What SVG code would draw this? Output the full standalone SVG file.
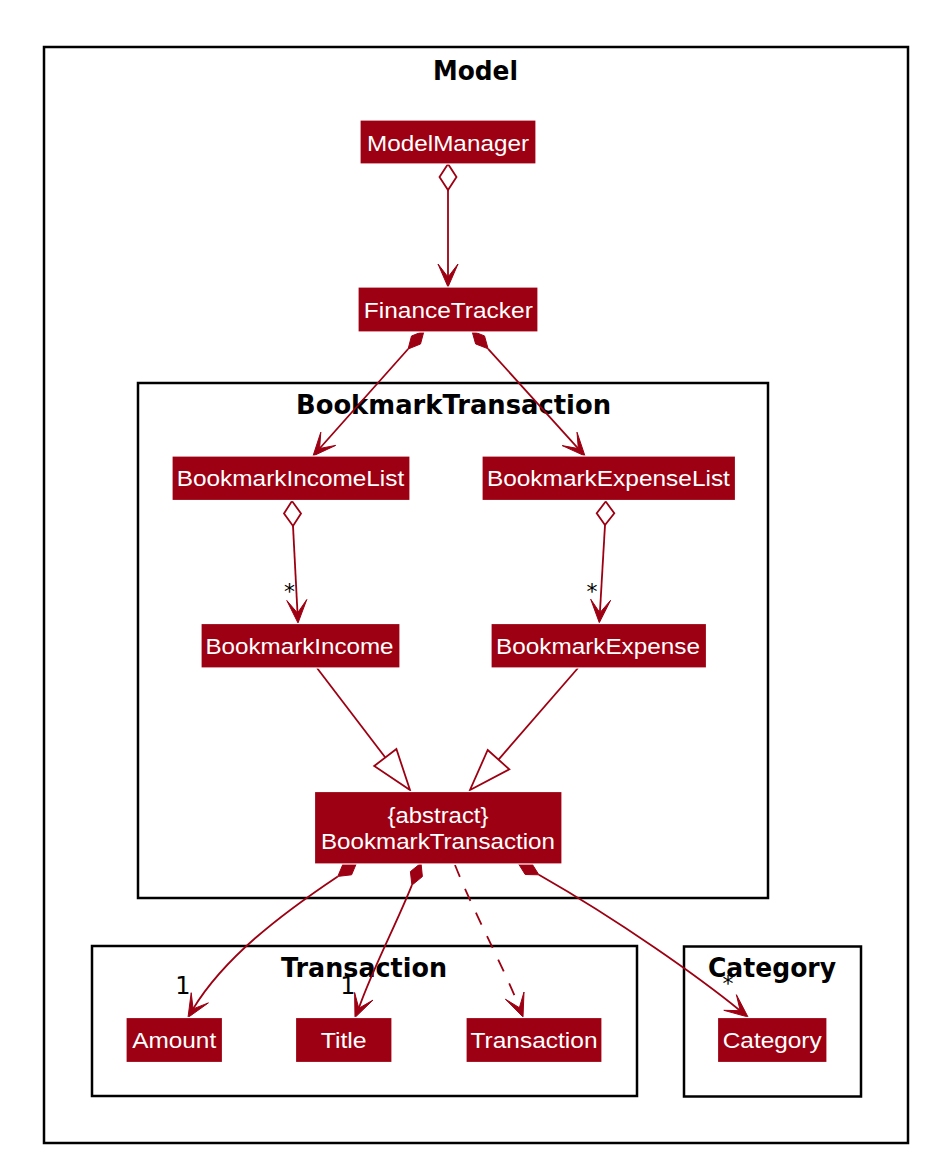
<svg xmlns="http://www.w3.org/2000/svg" width="928" height="1164" viewBox="0 0 928 1164">
<style>
.frame{fill:none;stroke:#000;stroke-width:2.5}
.ftitle{font-family:"DejaVu Sans",Verdana,sans-serif;font-weight:bold;font-size:26px;fill:#000;text-anchor:middle}
.box{fill:#9D0012;stroke:#fff;stroke-width:1.2}
.lbl{font-family:"Liberation Sans",Arial,sans-serif;font-size:22.5px;fill:#fff;text-anchor:middle}
.edge{fill:none;stroke:#9D0012;stroke-width:1.8}
.dash{stroke-dasharray:13,13}
.head{fill:#9D0012;stroke:#9D0012;stroke-width:1;stroke-linejoin:miter}
.odiam{fill:#fff;stroke:#9D0012;stroke-width:1.8}
.fdiam{fill:#9D0012;stroke:#9D0012;stroke-width:1}
.tri{fill:#fff;stroke:#9D0012;stroke-width:1.8}
.mult{font-family:"DejaVu Sans",sans-serif;font-size:22px;fill:#000;text-anchor:middle}
.one{font-size:24px}
</style>
<rect width="928" height="1164" fill="#fff"/>
<g id="pkg-model">
<rect class="frame" x="44" y="47" width="864" height="1096"/>
<text class="ftitle" x="475.5" y="80" textLength="85" lengthAdjust="spacingAndGlyphs">Model</text>
</g>
<g id="pkg-bookmarktransaction">
<rect class="frame" x="138" y="383" width="630" height="515"/>
<text class="ftitle" x="453.5" y="414" textLength="315" lengthAdjust="spacingAndGlyphs">BookmarkTransaction</text>
</g>
<g id="pkg-transaction">
<rect class="frame" x="92" y="946" width="545" height="150"/>
<text class="ftitle" x="364" y="977" textLength="166" lengthAdjust="spacingAndGlyphs">Transaction</text>
</g>
<g id="pkg-category">
<rect class="frame" x="684" y="946.5" width="177" height="150"/>
<text class="ftitle" x="772" y="977" textLength="128" lengthAdjust="spacingAndGlyphs">Category</text>
</g>
<g id="connectors">
<path class="edge" d="M448,190 L448,277"/>
<polygon class="odiam" points="448,164 439.5,177 448,190 456.5,177"/>
<polygon class="head" points="448,287 438,264 448,277 458,264"/>
<path class="edge" d="M408.1,349 L319.6,448.5"/>
<polygon class="fdiam" points="424,331 420.5,344 408.1,349 411.5,336"/>
<polygon class="head" points="313,456 320.8,432.2 319.6,448.5 335.7,445.4"/>
<path class="edge" d="M488.1,348.8 L578.3,448.6"/>
<polygon class="fdiam" points="472,331 475.6,343.9 488.1,348.8 484.5,335.9"/>
<polygon class="head" points="585,456 562.2,445.6 578.3,448.6 577,432.2"/>
<path class="edge" d="M293,526 L297.5,613"/>
<polygon class="odiam" points="292,501 284,513.5 293,526 301,513.5"/>
<polygon class="head" points="298,623 286.8,600.5 297.5,613 306.8,599.5"/>
<path class="edge" d="M605,525 L599.9,612.7"/>
<polygon class="odiam" points="605.7,501.5 596.7,513.3 605,525 614.3,513.3"/>
<polygon class="head" points="599.3,622.7 590.7,599.2 599.9,612.7 610.6,600.3"/>
<path class="edge" d="M317,668 L385.3,757.5"/>
<polygon class="tri" points="374.2,766 396.4,749 410,790"/>
<path class="edge" d="M578,668 L498.5,759.7"/>
<polygon class="tri" points="487.7,750 509.3,769.3 470,790"/>
<path class="edge" d="M337.8,876.4 C280,915 224,958 193.1,1008.9"/>
<polygon class="fdiam" points="357,862 351.6,874.8 337.8,876.4 343.2,863.6"/>
<polygon class="head" points="188,1017.5 191.2,992.7 193.1,1008.9 208.4,1002.9"/>
<path class="edge" d="M411.9,885.2 C396,925 373,968 358.8,1008.3"/>
<polygon class="fdiam" points="421,863 422.4,876.6 411.9,885.2 410.4,871.6"/>
<polygon class="head" points="355,1017.5 354.6,992.5 358.8,1008.3 373,1000.1"/>
<path class="edge dash" d="M455,865 C475,915 505,970 519.4,1007.7"/>
<polygon class="head" points="523,1017 505.4,999.2 519.4,1007.7 524,992"/>
<path class="edge" d="M538.9,874.8 C620,921 700,978 740.2,1010.7"/>
<polygon class="fdiam" points="518,863 525.2,874.5 538.9,874.8 531.6,863.2"/>
<polygon class="head" points="748,1017 723.8,1010.3 740.2,1010.7 736.4,994.7"/>
<text class="mult" x="289.5" y="598.5">*</text>
<text class="mult" x="592" y="598.5">*</text>
<text class="mult one" x="183" y="993.5">1</text>
<text class="mult one" x="348" y="993.5">1</text>
<text class="mult" x="728" y="991">*</text>
</g>
<g id="ModelManager">
<rect class="box" x="360" y="120" width="176" height="44"/>
<text class="lbl" x="448" y="151" textLength="162" lengthAdjust="spacingAndGlyphs">ModelManager</text>
</g>
<g id="FinanceTracker">
<rect class="box" x="358" y="287" width="180" height="45"/>
<text class="lbl" x="448.3" y="318" textLength="169" lengthAdjust="spacingAndGlyphs">FinanceTracker</text>
</g>
<g id="BookmarkIncomeList">
<rect class="box" x="172" y="456" width="238" height="44.5"/>
<text class="lbl" x="290.5" y="486" textLength="227.5" lengthAdjust="spacingAndGlyphs">BookmarkIncomeList</text>
</g>
<g id="BookmarkExpenseList">
<rect class="box" x="482" y="456" width="253.5" height="44.5"/>
<text class="lbl" x="608.4" y="486" textLength="243" lengthAdjust="spacingAndGlyphs">BookmarkExpenseList</text>
</g>
<g id="BookmarkIncome">
<rect class="box" x="201" y="623.5" width="199" height="44.5"/>
<text class="lbl" x="299.5" y="654" textLength="188" lengthAdjust="spacingAndGlyphs">BookmarkIncome</text>
</g>
<g id="BookmarkExpense">
<rect class="box" x="491" y="623.5" width="215.5" height="44.5"/>
<text class="lbl" x="598" y="653.5" textLength="204" lengthAdjust="spacingAndGlyphs">BookmarkExpense</text>
</g>
<g id="BookmarkTransaction">
<rect class="box" x="314.5" y="791.5" width="247.5" height="72.5"/>
<text class="lbl" x="438" y="822.7" textLength="101" lengthAdjust="spacingAndGlyphs">{abstract}</text>
<text class="lbl" x="438" y="849.3" textLength="234" lengthAdjust="spacingAndGlyphs">BookmarkTransaction</text>
</g>
<g id="Amount">
<rect class="box" x="126" y="1017.5" width="96.5" height="45"/>
<text class="lbl" x="174.2" y="1048" textLength="84" lengthAdjust="spacingAndGlyphs">Amount</text>
</g>
<g id="Title">
<rect class="box" x="295.5" y="1017.5" width="96.5" height="45"/>
<text class="lbl" x="343.7" y="1048" textLength="46" lengthAdjust="spacingAndGlyphs">Title</text>
</g>
<g id="Transaction">
<rect class="box" x="466" y="1017.5" width="136" height="45"/>
<text class="lbl" x="534" y="1048" textLength="127" lengthAdjust="spacingAndGlyphs">Transaction</text>
</g>
<g id="Category">
<rect class="box" x="717.5" y="1017.5" width="109.5" height="45"/>
<text class="lbl" x="772.2" y="1048" textLength="99" lengthAdjust="spacingAndGlyphs">Category</text>
</g>
</svg>
